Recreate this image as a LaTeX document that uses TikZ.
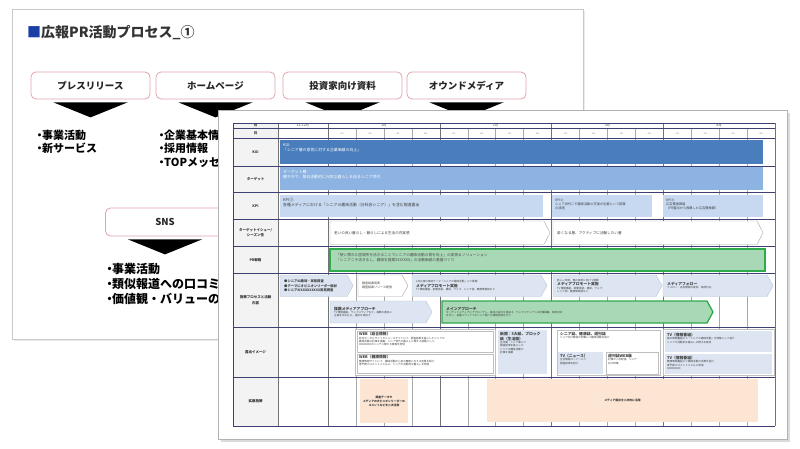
\documentclass[tikz,border=0pt]{standalone}
\usepackage{fontspec}
\setmainfont{Noto Sans CJK JP}
\usetikzlibrary{positioning}

\definecolor{slideline}{HTML}{C8C8C8}
\definecolor{titleblue}{HTML}{1B3FA6}
\definecolor{titlegray}{HTML}{333333}
\definecolor{pinkline}{HTML}{E0A4AC}
\definecolor{gridnavy}{HTML}{3E3F73}
\definecolor{gridgray}{HTML}{A8A8A8}
\definecolor{headgray}{HTML}{F3F3F3}
\definecolor{kgiblue}{HTML}{4A7DBB}
\definecolor{tgtblue}{HTML}{8DB3E2}
\definecolor{kpiblue}{HTML}{C6D9F1}
\definecolor{chevfill}{HTML}{DCE5F1}
\definecolor{chevline}{HTML}{B9C6D9}
\definecolor{prfill}{HTML}{A9D8B6}
\definecolor{prline}{HTML}{2DAA4B}
\definecolor{peach}{HTML}{FDE5D3}

\newcommand{\bul}{\makebox[5pt][c]{・}}
\newcommand{\ttl}[1]{{\bfseries\fontsize{3.8}{4.6}\selectfont #1}}
\newcommand{\chevbox}[8]{% style, name, x1, y1, x2, y2, text options, text
  \draw[#1] (#3,#4) -- ({#5-6},#4) -- (#5,{(#4+#6)/2}) -- ({#5-6},#6) -- (#3,#6) -- cycle;
  \node[smalltext, anchor=west, #7] (#2) at ({#3+4},{(#4+#6)/2}) {#8};}

\tikzset{
  slide/.style={draw=slideline, fill=white, line width=0.8pt},
  mediabox/.style={draw=pinkline, fill=white, rounded corners=5pt, line width=0.8pt,
    minimum width=119pt, minimum height=27pt, text=black!85,
    font=\bfseries\fontsize{9.5}{11}\selectfont},
  pointer/.style={fill=black},
  bullets/.style={anchor=north west, align=left, inner sep=0pt, text=black,
    font=\bfseries\fontsize{11}{13.5}\selectfont},
  rowline/.style={draw=gridnavy, line width=0.6pt},
  monthline/.style={draw=black!55, line width=0.4pt},
  weekline/.style={draw=gridgray, line width=0.3pt},
  rowhead/.style={align=center, inner sep=0pt, text=black!80,
    font=\bfseries\fontsize{3.5}{5.6}\selectfont},
  monthlbl/.style={inner sep=0pt, text=black!70, font=\fontsize{3.4}{4}\selectfont},
  weeklbl/.style={inner sep=0pt, text=black!45, font=\fontsize{2.2}{2.6}\selectfont},
  bartext/.style={anchor=north west, align=left, inner sep=0pt,
    font=\fontsize{3.9}{5}\selectfont},
  smalltext/.style={align=left, inner sep=0pt, text=black!75,
    font=\fontsize{2.6}{3.3}\selectfont},
  chevgray/.style={fill=chevfill, draw=chevline, line width=0.4pt},
  chevwhite/.style={fill=white, draw=black!35, line width=0.4pt},
  chevgreen/.style={fill=prfill, draw=prline, line width=1.3pt},
  expframe/.style={fill=white, draw=black!25, line width=0.4pt},
}

\begin{document}
\begin{tikzpicture}[x=1pt, y=-1pt]
        \useasboundingbox (0,0) rectangle (800,449);
        % ==== BACK SLIDE ====
        \fill[black!8] (14,11) rectangle (585,341);
        \draw[slide] (12,9) rectangle (583,339);
        \node[anchor=west, inner sep=0pt, text=titlegray, font=\bfseries\fontsize{14}{16}\selectfont]
            (title) at (27,33) {\textcolor{titleblue}{■}広報PR活動プロセス\_①};

        % ==== MEDIA BOXES ====
        \node[mediabox] (press) at (90.5,85.5) {プレスリリース};
        \node[mediabox] (hp) at (215.5,85.5) {ホームページ};
        \node[mediabox] (ir) at (342.5,85.5) {投資家向け資料};
        \node[mediabox] (owned) at (466.5,85.5) {オウンドメディア};
        \node[mediabox, minimum height=28pt] (sns) at (165,222) {SNS};
        \foreach \b in {press,hp,ir,owned,sns}
            \fill[pointer] ([xshift=-37pt,yshift=-3pt]\b.south) -- ([xshift=37pt,yshift=-3pt]\b.south)
                -- ([yshift=-18pt]\b.south) -- cycle;

        \node[bullets] (pressitems) at (37,129.5) {\bul 事業活動\\\bul 新サービス};
        \node[bullets] (hpitems) at (159,129.5) {\bul 企業基本情報\\\bul 採用情報\\\bul TOPメッセ};
        \node[bullets, font=\bfseries\fontsize{12}{15}\selectfont] (snsitems) at (107,263.5)
            {\bul 事業活動\\\bul 類似報道への口コミ\\\bul 価値観・バリューの};

        % ==== FRONT SLIDE ====
        \fill[black!14] (221,113) rectangle (790,442);
        \draw[slide, draw=black!30] (218,110) rectangle (787,439);
        \fill[headgray] (233,123) rectangle (278,426);

        % ==== GRID ====
        \foreach \i in {1,2,3,5,6,7,9,10,11,13,14,15}
            \draw[weekline] ({328+\i*27.9375},128.3) -- ({328+\i*27.9375},426);
        \foreach \i in {0,4,8,12,16}
            \draw[monthline] ({328+\i*27.9375},123) -- ({328+\i*27.9375},426);
        \draw[monthline] (278,123) -- (278,426);
        \draw[rowline] (233,123) -- (233,426);

        % ==== HEADER LABELS ====
        \node[rowhead] (hmonth) at (255.5,125.7) {月};
        \node[rowhead] (hday) at (255.5,133.4) {日};
        \node[monthlbl] (m0) at (303,125.7) {11-12月};
        \node[monthlbl] (m1) at (383.9,125.7) {1月};
        \node[monthlbl] (m2) at (495.6,125.7) {2月};
        \node[monthlbl] (m3) at (607.4,125.7) {3月};
        \node[monthlbl] (m4) at (719.1,125.7) {4月};
        \foreach \i [evaluate=\i as \wk using {int(mod(\i,4)+1)}] in {0,...,15}
            \node[weeklbl] (wk\i) at ({328+(\i+0.5)*27.9375},133.4) {\wk W};

        \node[rowhead] (hkgi) at (255.5,152.2) {KGI};
        \node[rowhead] (htarget) at (255.5,179.2) {ターゲット};
        \node[rowhead] (hkpi) at (255.5,205.7) {KPI};
        \node[rowhead] (hissue) at (255.5,232.7) {ターゲットイシュー/\\シーズン性};
        \node[rowhead] (hpr) at (255.5,259.7) {PR戦略};
        \node[rowhead] (hprocess) at (255.5,300) {施策プロセスと活動\\内容};
        \node[rowhead] (hexposure) at (255.5,352) {露出イメージ};
        \node[rowhead] (hspread) at (255.5,401.5) {拡散施策};

        % ==== KGI / TARGET / KPI ====
        \fill[kgiblue] (280,140.5) rectangle (763,164);
        \node[bartext, text=white] (kgitxt) at (283,143.5) {KGI:\\「シニア層の意見に対する企業価値の向上」};
        \fill[tgtblue] (280,167.5) rectangle (763,190.5);
        \node[bartext, text=white] (tgttxt) at (283,170.5) {ターゲット層:\\健やかで、毎日活動的に元気な暮らしを送るシニア世代};
        \fill[kpiblue] (280,195) rectangle (543,217);
        \node[bartext, text=black!75] (kpi1txt) at (283,198.5)
            {KPI①:\\各種メディアにおける「シニアの趣味活動（分科会シニア）」を含む報道露出};
        \fill[kpiblue] (552,195) rectangle (652,217);
        \node[bartext, text=black!75, font=\fontsize{3.2}{4.2}\selectfont] (kpi2txt) at (555,198.5)
            {KPI②:\\シニア世代こそ趣味活動の充実が必要という認識\\の浸透};
        \fill[kpiblue] (663,195) rectangle (763,217);
        \node[bartext, text=black!75, font=\fontsize{3.2}{4.2}\selectfont] (kpi3txt) at (666,198.5)
            {KPI③:\\広告費換算値\\（PR露出から換算した広告費換算）};

        % ==== ISSUE / PR STRATEGY ====
        \chevbox{chevwhite}{issue1}{330}{221}{550}{244.5}{font=\fontsize{3.6}{4.4}\selectfont}{老いの良い暮らし・暮らしによる生活の充実感}
        \chevbox{chevwhite}{issue2}{553}{221}{763}{244.5}{font=\fontsize{3.6}{4.4}\selectfont}{若くなる層、アクティブに活動したい層}
        \draw[chevgreen] (330,249) rectangle (765,271);
        \node[bartext, text=black!70, font=\fontsize{3.7}{5}\selectfont] (prtxt) at (336,253)
            {「使い慣れた居場所を活きることでシニアの趣味活動の質を向上」の実現＆ソリューション\\
             「シニアこそ活きるし、趣味を提案XXXXXXX」の活動価値の基盤づくり};

        % ==== PROCESS ====
        \chevbox{chevgray}{proc1}{280}{275}{353}{296.5}{font=\bfseries\fontsize{3.3}{4.2}\selectfont}{●シニアの趣味・実態調査\\●テーマにオピニオンリーダー取材\\●シニアのXXXXXXXXX実態調査}
        \chevbox{chevwhite}{proc2}{358}{275}{408}{296.5}{font=\fontsize{3}{4}\selectfont}{調査結果発表\\調査結果リリース配信}
        \chevbox{chevgray}{proc3}{412}{275}{547}{296.5}{}{2月以降の取材テーマ「シニアの趣味活動」にて展開\\\ttl{メディアプロモート実施}\\TV 情報番組、新聞各紙、雑誌、ウェブ、シニア誌、健康情報誌など}
        \chevbox{chevgray}{proc4}{553}{275}{662}{296.5}{}{新しい年度、春の取材に向けて展開\\\ttl{メディアプロモート実施}\\TV 情報番組、新聞各紙、雑誌、ウェブ\\シニア誌、健康情報誌など}
        \chevbox{chevgray}{proc5}{663}{275}{773}{296.5}{}{\ttl{メディアフォロー}\\フォロー・追加情報の提供、取材対応}
        \chevbox{chevgray}{proc6}{330}{301}{432}{323}{}{\ttl{複数メディアアプローチ}\\TV 情報番組、ウェブメディアなど、複数の露出に\\企画を持ち込み、露出を目指す}
        \chevbox{chevgreen}{proc7}{442}{301}{713}{323}{}{\ttl{メインアプローチ}\\ターゲットメディアにアプローチし、露出の拡大を目指す。ウェブメディアへの記事掲載、取材対応\\を行い、各種メディアでのシニア層への情報発信を行う}

        % ==== EXPOSURE ====
        \draw[expframe] (355,329) rectangle (495,375);
        \draw[expframe] (357,331) rectangle (493,352);
        \node[smalltext, anchor=north west] (web1) at (359,332.5)
            {\ttl{WEB（総合情報）}\\総合ポータルサイトやニュースサイトにて、調査結果を基にしたシニアの\\趣味活動の記事を掲載。シニア世代の暮らしに関する話題として、\\XXXXXXXXのシニアに関する情報を発信};
        \draw[expframe] (357,354) rectangle (493,373);
        \node[smalltext, anchor=north west] (web2) at (359,355.5)
            {\ttl{WEB（健康情報）}\\健康情報サイトにて、趣味活動が心身の健康に与える効果を紹介\\専門家のコメントとともに、シニアの活動的な暮らしを発信};
        \fill[chevfill] (498,330) rectangle (547,374);
        \node[smalltext, anchor=north west] (news) at (500,332)
            {\ttl{新聞：5大紙、ブロック}\\\ttl{紙（生活面）}\\生活面・シニア面にて\\調査結果を基にした\\シニアの趣味活動の\\記事を掲載};
        \draw[expframe] (557,330) rectangle (660,375);
        \node[smalltext, anchor=north west] (mag) at (560,332)
            {\ttl{シニア誌、健康誌、週刊誌}\\シニア向け雑誌の特集にて趣味活動を紹介};
        \fill[chevfill] (558,352) rectangle (603,374);
        \node[smalltext, anchor=north west] (tvnews) at (560,354)
            {\ttl{TV（ニュース）}\\生活情報コーナーにて\\調査結果を紹介};
        \draw[expframe] (606,352) rectangle (658,374);
        \node[smalltext, anchor=north west] (magweb) at (608,354)
            {\ttl{週刊誌WEB版}\\記事の二次配信、シニア\\向け特集};
        \draw[expframe] (663,329) rectangle (774,375);
        \fill[chevfill] (665,331) rectangle (772,352);
        \node[smalltext, anchor=north west] (tv1) at (667,333)
            {\ttl{TV（情報番組）}\\朝の情報番組にて「シニアの趣味活動」を特集として紹介\\シニアの活動的な暮らしの様子を取材};
        \fill[chevfill] (665,354) rectangle (772,374);
        \node[smalltext, anchor=north west] (tv2) at (667,356)
            {\ttl{TV（情報番組）}\\健康情報番組にて趣味活動の効果を紹介\\専門家のコメントとともに発信\\XXXXXXXXX};

        % ==== SPREAD ====
        \fill[peach] (360,379) rectangle (408,423);
        \node[smalltext, align=center, text=black!80, font=\bfseries\fontsize{2.8}{4}\selectfont]
            (spread1) at (384,401) {調査データや\\メディアのオピニオンリーダーの\\コメントなどを二次活用};
        \fill[peach] (487,379) rectangle (758,422);
        \node[smalltext, align=center, text=black!80, font=\bfseries\fontsize{2.8}{4}\selectfont]
            (spread2) at (622.5,400.5) {メディア露出を二次的に活用};

        % ==== ROW LINES ====
        \foreach \y in {123,128.3,138.5,166,192.5,219,246.5,273,327,377,426}
            \draw[rowline] (233,\y) -- (775,\y);
\end{tikzpicture}
\end{document}
